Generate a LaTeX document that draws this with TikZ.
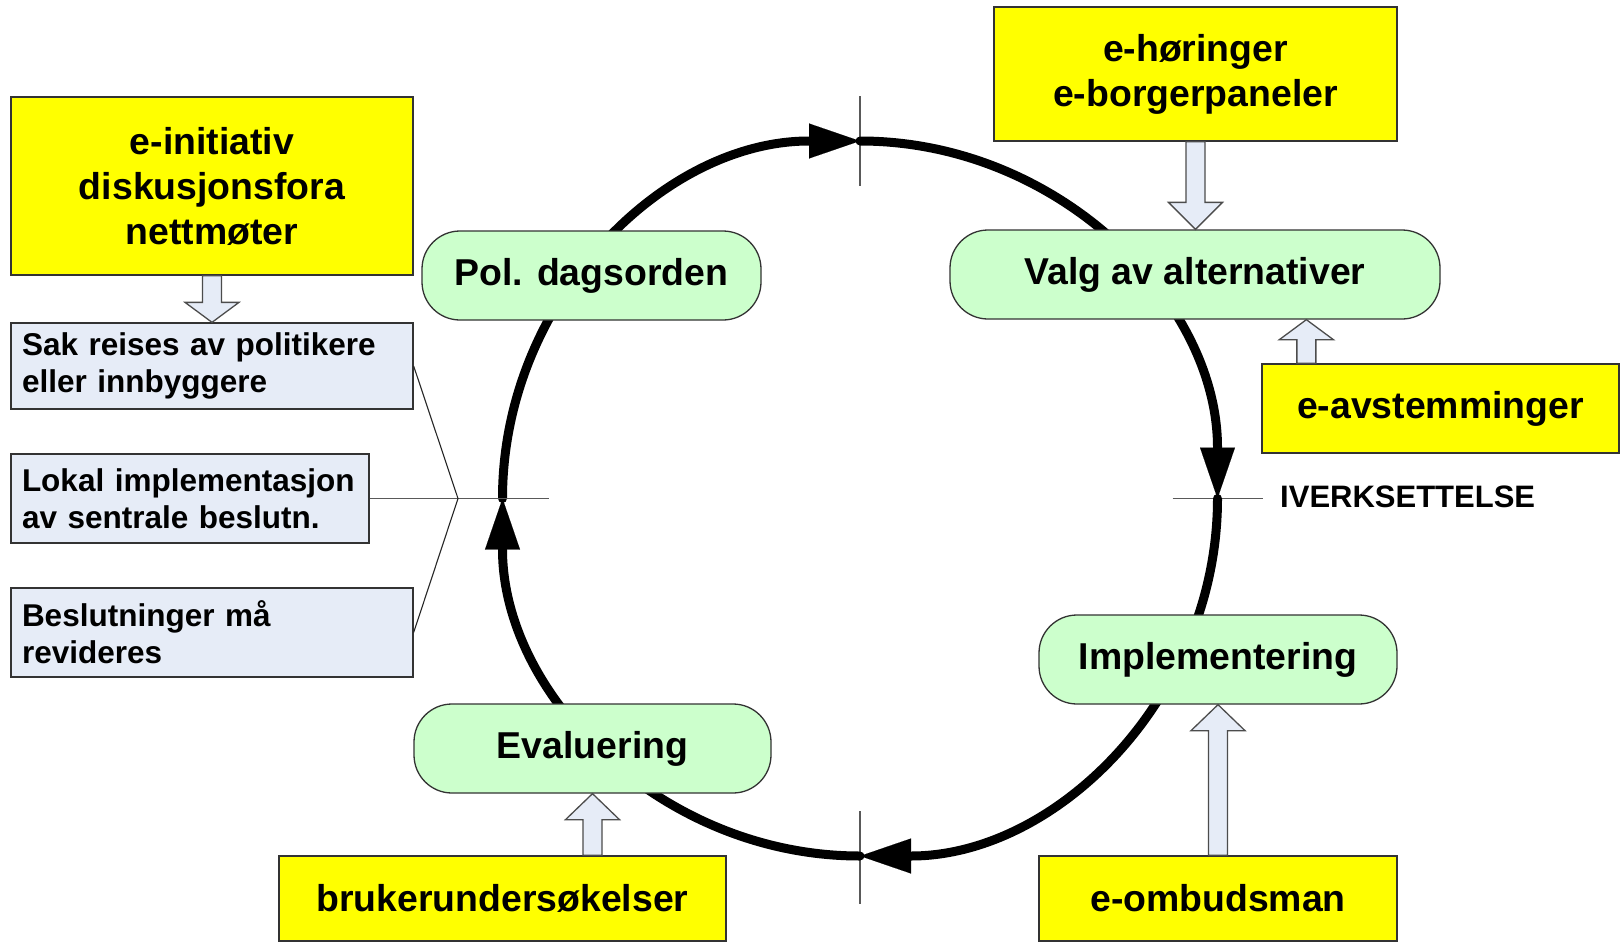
\documentclass[tikz,border=0pt]{standalone}
\usepackage{fontspec}
\setmainfont{Liberation Sans}
\usetikzlibrary{arrows.meta,calc}
\definecolor{yellowc}{HTML}{FFFF00}
\definecolor{greenc}{HTML}{CCFFCC}
\definecolor{bluec}{HTML}{E6ECF7}
\newcommand\bigfnt{\fontsize{37.4pt}{45pt}\selectfont\bfseries}
\newcommand\smallfnt{\fontsize{31.5pt}{37pt}\selectfont\bfseries}
\newcommand\blockarr[3]{\draw[barrow] let \p1=(#1), \p2=(#2), \n1={ifthenelse(\y1>\y2,1,-1)} in
  (\x1-9.5pt,\y1) -- (\x2-9.5pt,{\y2+\n1*#3}) -- (\x2-27pt,{\y2+\n1*#3}) -- (\x2,\y2)
  -- (\x2+27pt,{\y2+\n1*#3}) -- (\x2+9.5pt,{\y2+\n1*#3}) -- (\x1+9.5pt,\y1) -- cycle;}
\tikzset{
  ybox/.style={draw=black!80, line width=1.3pt, fill=yellowc, font=\bigfnt, align=center, inner sep=0pt},
  gbox/.style={draw=black!80, line width=1.3pt, fill=greenc, rounded corners=38pt, font=\bigfnt, inner sep=0pt},
  bbox/.style={draw=black!80, line width=1.3pt, fill=bluec, font=\smallfnt, align=left, inner xsep=11pt, inner ysep=0pt},
  cyc/.style={line width=9pt, line cap=round, -{Triangle[length=51pt,width=35pt,line width=0.1pt]}},
  tickln/.style={draw=black!65, line width=1.3pt},
  barrow/.style={draw=black!70, fill=bluec, line width=1.3pt, line join=miter},
}
\begin{document}
\begin{tikzpicture}[x=1pt,y=-1pt]
\useasboundingbox (0,0) rectangle (1622,942);
\fill[white] (0,0) rectangle (1622,942);
% circle key points
\coordinate (C) at (860,498.5);
\coordinate (T) at (860,141);
\coordinate (R) at (1217.5,498.5);
\coordinate (B) at (860,856);
\coordinate (L) at (502.5,498.5);
\coordinate (J) at (458,498.5);
% ticks
\draw[tickln] ($(T)+(0,-45)$) -- ($(T)+(0,45)$);
\draw[tickln] ($(R)+(-45,0)$) -- ($(R)+(45,0)$);
\draw[tickln] ($(B)+(0,-45)$) -- ($(B)+(0,48)$);
% cycle arcs
\draw[cyc] (L) arc[start angle=180,end angle=270,radius=357.5];
\draw[cyc] (T) arc[start angle=270,end angle=360,radius=357.5];
\draw[cyc] (R) arc[start angle=0,end angle=90,radius=357.5];
\draw[cyc] (B) arc[start angle=90,end angle=180,radius=357.5];
% nodes
\node[ybox, minimum width=402pt, minimum height=178pt] (einit) at (212,186) {e-initiativ\\diskusjonsfora\\nettmøter};
\node[ybox, minimum width=403pt, minimum height=134pt] (hor) at (1195.5,74) {e-høringer\\e-borgerpaneler};
\node[gbox, minimum width=339pt, minimum height=89pt] (pol) at (591.5,275.5) {Pol. dagsorden};
\node[gbox, minimum width=490pt, minimum height=89pt] (valg) at (1195,274.5) {Valg av alternativer};
\node[ybox, minimum width=357pt, minimum height=89pt] (avst) at (1440.5,408.5) {e-avstemminger};
\node[anchor=west, font=\fontsize{31pt}{37pt}\selectfont\bfseries, inner sep=0pt] (iv) at (1280,497) {IVERKSETTELSE};
\node[gbox, minimum width=358pt, minimum height=89pt] (impl) at (1218,659.5) {Implementering};
\node[gbox, minimum width=357pt, minimum height=89pt] (eval) at (592.5,748.5) {Evaluering};
\node[ybox, minimum width=447pt, minimum height=85pt] (bru) at (502.5,898.5) {brukerundersøkelser};
\node[ybox, minimum width=358pt, minimum height=85pt] (omb) at (1218,898.5) {e-ombudsman};
\node[bbox, text width=380pt, minimum height=86pt] (sak) at (212,366) {Sak reises av politikere\\eller innbyggere};
\node[bbox, text width=336pt, minimum height=89pt] (lok) at (190,498.5) {Lokal implementasjon\\av sentrale beslutn.};
\node[bbox, text width=380pt, minimum height=89pt] (bes) at (212,632.5) {Beslutninger må\\revideres};
% left connectors
\draw[tickln] (lok.east) -- ($(L)+(46,0)$);
\draw[tickln, line width=1.1pt, draw=black!85] (sak.east) -- (J) -- (bes.east);
% block arrows
\coordinate (a2t) at (hor.south |- valg.north);
\coordinate (a3s) at ($(avst.north west)+(45,0)$);
\coordinate (a3t) at (a3s |- valg.south);
\coordinate (a4s) at (eval.south |- bru.north);
\coordinate (a5s) at (impl.south |- omb.north);
\blockarr{einit.south}{sak.north}{20pt}
\blockarr{hor.south}{a2t}{27pt}
\blockarr{a3s}{a3t}{20pt}
\blockarr{a4s}{eval.south}{26pt}
\blockarr{a5s}{impl.south}{26pt}
\end{tikzpicture}
\end{document}
